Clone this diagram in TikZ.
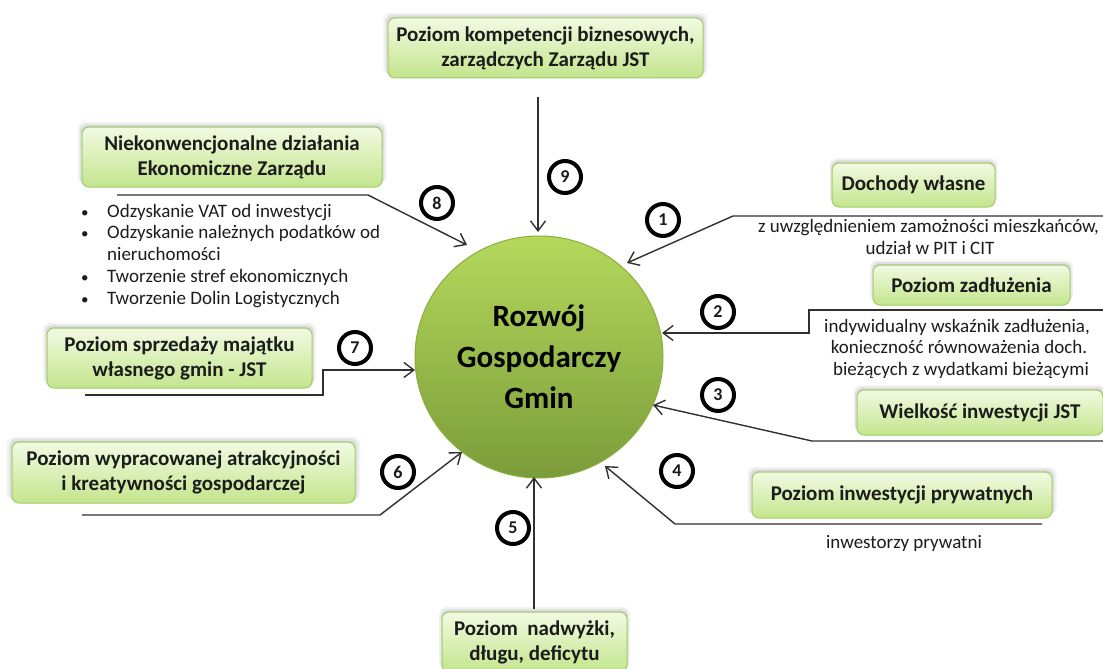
\documentclass[tikz,border=0pt]{standalone}
\usepackage{fontspec}
\setmainfont{Carlito}
\usetikzlibrary{arrows.meta,shadows,shapes.geometric}
\definecolor{boxtop}{HTML}{F2FAE2}
\definecolor{boxbot}{HTML}{C3E58D}
\definecolor{boxborder}{HTML}{A3CD68}
\definecolor{ctop}{HTML}{B4D85C}
\definecolor{cmid}{HTML}{9FC749}
\definecolor{cbot}{HTML}{7B9C3A}
\definecolor{cborder}{HTML}{8AAE40}
\definecolor{linec}{HTML}{303030}
\definecolor{txt}{HTML}{1C1C1C}
\newcommand\fBox{\fontsize{21}{25}\selectfont\bfseries}
\newcommand\fSmall{\fontsize{19}{21.5}\selectfont}
\newcommand\fCenter{\fontsize{31}{41}\selectfont\bfseries}
\newcommand\fNum{\fontsize{18}{18}\selectfont\bfseries}
\begin{document}
\begin{tikzpicture}[x=1pt,y=-1pt,
  box/.style={rounded corners=7pt, draw=boxborder, line width=1pt,
    top color=boxtop, bottom color=boxbot, font=\fBox, text=txt,
    align=center, inner sep=0pt,
    general shadow={fill=black, opacity=0.05, shadow yshift=4pt, shadow scale=1.03},
    general shadow={fill=black, opacity=0.08, shadow yshift=2.5pt, shadow scale=1.015},
    general shadow={fill=black, opacity=0.10, shadow yshift=1pt}},
  numc/.style={circle, draw=black, line width=4pt, minimum size=32pt,
    inner sep=0pt, font=\fNum, text=black!90},
  conn/.style={draw=linec, line width=1.4pt,
    -{Straight Barb[length=10pt,width=15pt]}},
  note/.style={font=\fSmall, text=txt, inner sep=0pt, anchor=base},
  bul/.style={font=\fSmall, text=txt, inner sep=0pt, anchor=base west}]
\useasboundingbox (0,0) rectangle (1103,669);
\fill[white] (0,0) rectangle (1103,669);

% central ellipse
\node[ellipse, minimum width=248pt, minimum height=242pt, inner sep=0pt,
  draw=cborder, line width=1pt, top color=ctop, middle color=cmid, bottom color=cbot,
  font=\fCenter, text=black, align=center] (c) at (539,357)
  {Rozwój\\Gospodarczy\\Gmin};

% boxes
\node[box, minimum width=315pt, minimum height=60pt] (b9) at (545.5,48)
  {Poziom kompetencji biznesowych,\\zarządczych Zarządu JST};
\node[box, minimum width=300pt, minimum height=60pt] (b8) at (232,157)
  {Niekonwencjonalne działania\\Ekonomiczne Zarządu};
\node[box, minimum width=163pt, minimum height=44pt] (b1) at (913.5,185)
  {Dochody własne};
\node[box, minimum width=197pt, minimum height=40pt] (b2) at (971.5,285)
  {Poziom zadłużenia};
\node[box, minimum width=246pt, minimum height=45pt] (b3) at (980,412.5)
  {Wielkość inwestycji JST};
\node[box, minimum width=300pt, minimum height=46pt] (b4) at (902,495)
  {Poziom inwestycji prywatnych};
\node[box, minimum width=185pt, minimum height=60pt] (b5) at (534.5,642)
  {Poziom\ \ nadwyżki,\\długu, deficytu};
\node[box, minimum width=265pt, minimum height=60pt] (b7) at (179.5,358)
  {Poziom sprzedaży majątku\\własnego gmin - JST};
\node[box, minimum width=343pt, minimum height=61pt] (b6) at (183.5,472.5)
  {Poziom wypracowanej atrakcyjności\\i kreatywności gospodarczej};

% notes
\node[note] (n1a) at (928.5,232) {z uwzględnieniem zamożności mieszkańców,};
\node[note] (n1b) at (930,254) {udział w PIT i CIT};
\node[note] (n2a) at (957,332) {indywidualny wskaźnik zadłużenia,};
\node[note] (n2b) at (959,353.5) {konieczność równoważenia doch.};
\node[note] (n2c) at (961,375) {bieżących z wydatkami bieżącymi};
\node[note] (n4a) at (904,548) {inwestorzy prywatni};

% bullet list
\foreach \yy/\tt [count=\i] in {217/{Odzyskanie VAT od inwestycji},
  238/{Odzyskanie należnych podatków od}, 282/{Tworzenie stref ekonomicznych},
  304/{Tworzenie Dolin Logistycznych}}{
  \node[bul, font=\fontsize{15}{15}\selectfont] (bd\i) at (81,\yy) {\textbullet};
  \node[bul] (bt\i) at (107,\yy) {\tt};
}
\node[bul] (bt2b) at (107,260) {nieruchomości};

% connectors
\coordinate (s9) at (538,97);  \coordinate (t9) at (538,232);
\draw[conn] (s9) -- (t9);
\coordinate (s8) at (117,195); \coordinate (k8) at (368,195); \coordinate (t8) at (467,245);
\draw[conn] (s8) -- (k8) -- (t8);
\coordinate (s1) at (1103,216); \coordinate (k1) at (733,216); \coordinate (t1) at (627,263);
\draw[conn] (s1) -- (k1) -- (t1);
\coordinate (s2) at (1103,310); \coordinate (k2a) at (809,310); \coordinate (k2b) at (809,333);
\coordinate (t2) at (662,333);
\draw[conn] (s2) -- (k2a) -- (k2b) -- (t2);
\coordinate (s3) at (1103,441); \coordinate (k3) at (812,441); \coordinate (t3) at (653,405);
\draw[conn] (s3) -- (k3) -- (t3);
\coordinate (s4) at (1042,524); \coordinate (k4) at (675,524); \coordinate (t4) at (605,466);
\draw[conn] (s4) -- (k4) -- (t4);
\coordinate (s5) at (534,609); \coordinate (t5) at (534,477);
\draw[conn] (s5) -- (t5);
\coordinate (s6) at (82,515); \coordinate (k6) at (380,515); \coordinate (t6) at (462,452);
\draw[conn] (s6) -- (k6) -- (t6);
\coordinate (s7) at (85,395); \coordinate (k7a) at (323,395); \coordinate (k7b) at (323,370);
\coordinate (t7) at (415,370);
\draw[conn] (s7) -- (k7a) -- (k7b) -- (t7);

% number circles
\node[numc] (m1) at (663,220) {1};
\node[numc] (m2) at (718,312) {2};
\node[numc] (m3) at (718,395) {3};
\node[numc] (m4) at (677,471) {4};
\node[numc] (m5) at (513,528) {5};
\node[numc] (m6) at (398,472) {6};
\node[numc] (m7) at (355,348) {7};
\node[numc] (m8) at (437,203) {8};
\node[numc] (m9) at (565,177) {9};
\end{tikzpicture}
\end{document}
